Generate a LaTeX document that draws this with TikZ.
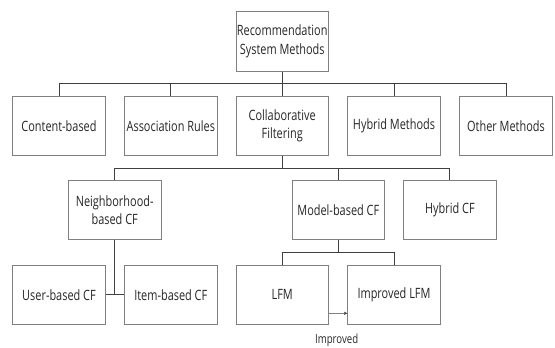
\documentclass[tikz,border=0pt]{standalone}
\usepackage{fontspec}
\setmainfont[FakeStretch=0.77]{Open Sans}
\usetikzlibrary{arrows.meta,calc}
\definecolor{boxgray}{HTML}{808080}
\definecolor{linegray}{HTML}{404040}
\definecolor{txt}{HTML}{262626}
\begin{document}
\begin{tikzpicture}[x=1bp,y=-1bp,
  box/.style={draw=boxgray,line width=0.9bp,rectangle,minimum width=92.5bp,minimum height=59.5bp,inner sep=0pt,align=center,text=txt,font=\fontsize{14.2bp}{18.3bp}\selectfont},
  conn/.style={draw=linegray,line width=0.9bp},
  arr/.style={draw=boxgray,line width=0.9bp,-{Stealth[length=3.5bp,width=3.5bp,color=linegray]}},
  lbl/.style={text=txt,font=\fontsize{12.5bp}{15bp}\selectfont,inner sep=0pt}]
\useasboundingbox (0,0) rectangle (555,347);
% level 1
\node[box] (top) at (282.2,41.3) {Recommendation\\System Methods};
% level 2
\node[box] (cb) at (59,125.7) {Content-based};
\node[box] (ar) at (170.8,125.7) {Association Rules};
\node[box] (cf) at (282.2,125.7) {Collaborative\\Filtering};
\node[box] (hm) at (394,125.7) {Hybrid Methods};
\node[box] (om) at (506,125.7) {Other Methods};
% level 3
\node[box] (nb) at (114.7,210) {Neighborhood-\\based CF};
\node[box] (mb) at (338.3,210) {Model-based CF};
\node[box] (hcf) at (449.9,210) {Hybrid CF};
% level 4
\node[box] (ub) at (59,294.7) {User-based CF};
\node[box] (ib) at (170.8,294.7) {Item-based CF};
\node[box] (lfm) at (282.2,294.7) {LFM};
\node[box] (ilfm) at (394,294.7) {Improved LFM};
\node[lbl] (imp) at (336.7,340.2) {Improved};
% bus coordinates
\coordinate (b1) at (282.2,83.3);
\coordinate (b2) at (282.2,168.3);
\coordinate (b3) at (338.3,252.7);
% level 1 -> 2
\draw[conn] (top.south) -- (b1);
\draw[conn] (cb.north) |- (b1) -| (om.north);
\draw[conn] (ar.north) -- (ar.north |- b1);
\draw[conn] (cf.north) -- (b1);
\draw[conn] (hm.north) -- (hm.north |- b1);
% cf -> level 3
\draw[conn] (cf.south) -- (b2);
\draw[conn] (nb.north) |- (b2) -| (hcf.north);
\draw[conn] (mb.north) -- (mb.north |- b2);
% nb -> ub, ib
\draw[conn] (nb.south) -- (nb.south |- ub.east);
\draw[conn] (ub.east) -- (ib.west);
% mb -> lfm, ilfm
\draw[conn] (mb.south) -- (b3);
\draw[conn] (lfm.north) |- (b3) -| (ilfm.north);
% arrow
\draw[arr] ($(lfm.south east)+(0,-11.6)$) -- ($(ilfm.south west)+(0,-11.6)$);
\end{tikzpicture}
\end{document}
